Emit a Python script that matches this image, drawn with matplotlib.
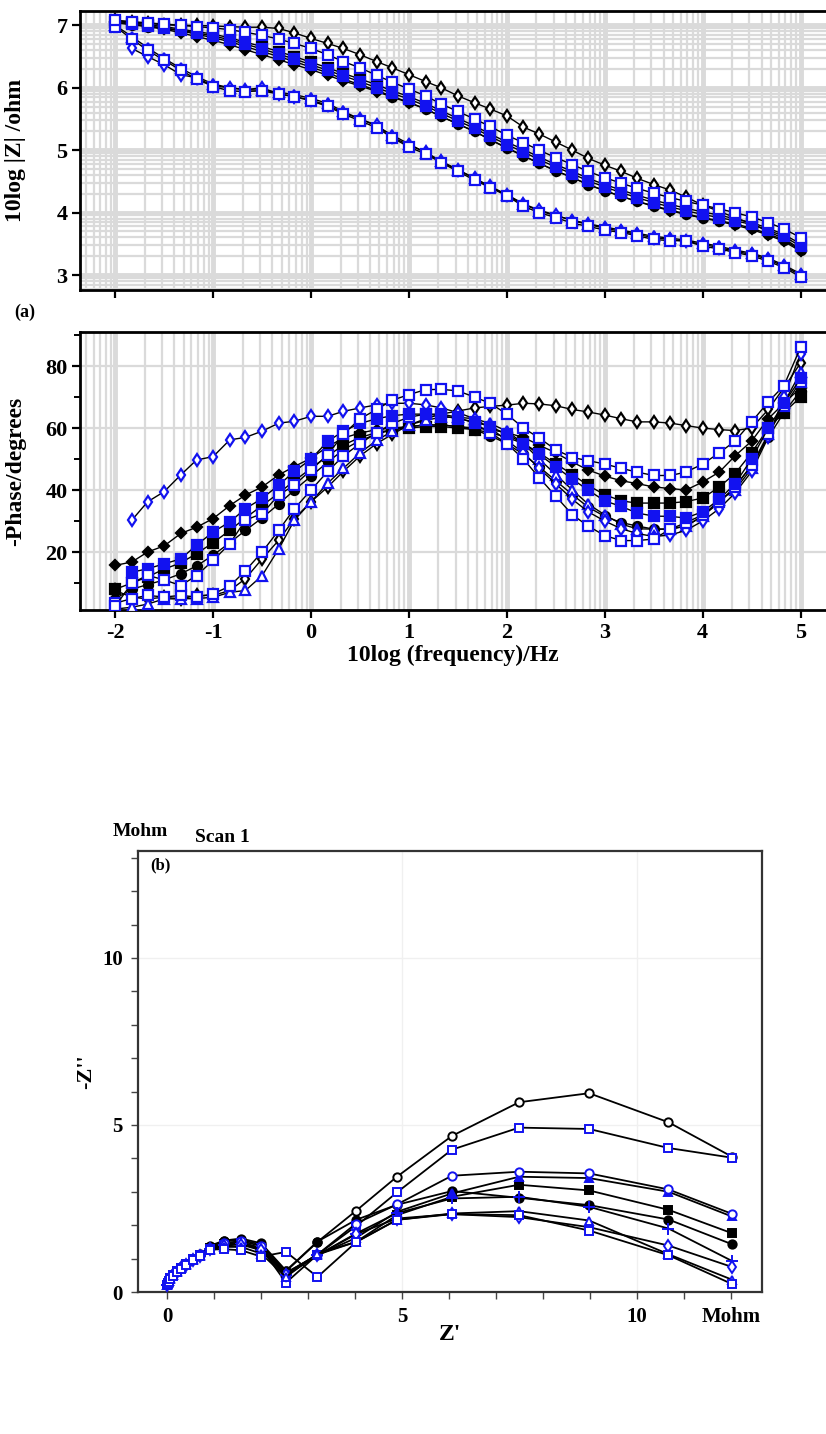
import matplotlib
matplotlib.use('Agg')
import matplotlib.pyplot as plt
import numpy as np
from matplotlib.ticker import FixedLocator, MultipleLocator

plt.rcParams['font.family'] = ['Liberation Serif', 'DejaVu Serif']
plt.rcParams['font.weight'] = 'bold'
plt.rcParams['axes.unicode_minus'] = False

nan = np.nan
BLUE = '#1212f0'

# ---------------- Bode data: log10(frequency / Hz) ----------------
logf = [-2.00, -1.83, -1.67, -1.50, -1.33, -1.17,
        -1.00, -0.83, -0.67, -0.50, -0.33, -0.17,
        0.00, 0.17, 0.33, 0.50, 0.67, 0.83,
        1.00, 1.17, 1.33, 1.50, 1.67, 1.83,
        2.00, 2.17, 2.33, 2.50, 2.67, 2.83,
        3.00, 3.17, 3.33, 3.50, 3.67, 3.83,
        4.00, 4.17, 4.33, 4.50, 4.67, 4.83,
        5.00]

# log10|Z| (ohm)
z_s1 = [7.08, 7.05, 7.03, 7.01, 7.00, 7.00, 6.99, 6.98, 6.97, 6.97, 6.95, 6.88,
        6.79, 6.71, 6.63, 6.53, 6.42, 6.32, 6.21, 6.10, 6.00, 5.87, 5.76, 5.66,
        5.55, 5.37, 5.26, 5.13, 5.00, 4.87, 4.76, 4.66, 4.55, 4.45, 4.36, 4.25,
        4.12, 4.02, 3.92, 3.82, 3.70, 3.58, 3.42]
z_s2 = [7.00, 6.82, 6.64, 6.47, 6.31, 6.18, 6.06, 6.00, 5.97, 5.96, 5.93, 5.89,
        5.83, 5.75, 5.62, 5.50, 5.39, 5.24, 5.10, 4.96, 4.82, 4.68, 4.55, 4.41,
        4.28, 4.13, 4.03, 3.95, 3.88, 3.82, 3.77, 3.72, 3.67, 3.62, 3.59, 3.56,
        3.51, 3.46, 3.40, 3.35, 3.27, 3.16, 3.02]
z_s3 = [nan, 6.63, 6.50, 6.37, 6.21, 6.16, 6.03, 6.00, 5.97, 6.00, 5.90, 5.86,
        5.80, 5.72, 5.60, 5.50, 5.40, 5.21, 5.08, 4.97, 4.82, 4.69, 4.55, 4.42,
        4.29, 4.14, 4.04, 3.96, 3.87, 3.81, 3.75, 3.70, 3.65, 3.60, 3.57, 3.54,
        3.49, 3.44, 3.38, 3.33, 3.25, 3.14, 3.00]
z_s4 = [7.05, 7.02, 6.98, 6.94, 6.88, 6.82, 6.76, 6.69, 6.61, 6.53, 6.45, 6.37,
        6.29, 6.20, 6.11, 6.03, 5.94, 5.85, 5.76, 5.66, 5.54, 5.42, 5.30, 5.17,
        5.03, 4.91, 4.79, 4.67, 4.56, 4.45, 4.35, 4.26, 4.18, 4.10, 4.03, 3.97,
        3.91, 3.86, 3.80, 3.73, 3.64, 3.54, 3.38]
z_s5 = [7.08, 7.06, 7.04, 7.02, 7.00, 6.98, 6.96, 6.93, 6.89, 6.84, 6.78, 6.71,
        6.63, 6.53, 6.42, 6.32, 6.20, 6.09, 5.98, 5.87, 5.74, 5.62, 5.50, 5.38,
        5.24, 5.12, 5.00, 4.88, 4.77, 4.66, 4.56, 4.47, 4.39, 4.31, 4.24, 4.18,
        4.12, 4.06, 4.00, 3.93, 3.84, 3.74, 3.60]
z_s6 = [nan, 7.02, 6.99, 6.96, 6.92, 6.88, 6.83, 6.77, 6.70, 6.62, 6.54, 6.46,
        6.37, 6.28, 6.19, 6.10, 6.00, 5.91, 5.82, 5.71, 5.59, 5.47, 5.35, 5.22,
        5.09, 4.97, 4.85, 4.73, 4.62, 4.51, 4.41, 4.32, 4.24, 4.16, 4.09, 4.03,
        3.97, 3.92, 3.87, 3.81, 3.72, 3.62, 3.46]
z_s7 = [7.06, 7.04, 7.01, 6.98, 6.94, 6.90, 6.86, 6.80, 6.73, 6.66, 6.58, 6.50,
        6.41, 6.32, 6.23, 6.14, 6.05, 5.95, 5.86, 5.75, 5.63, 5.51, 5.39, 5.26,
        5.13, 5.01, 4.89, 4.77, 4.66, 4.55, 4.45, 4.36, 4.28, 4.20, 4.13, 4.07,
        4.01, 3.96, 3.90, 3.84, 3.75, 3.65, 3.50]
z_s8 = [6.98, 6.78, 6.60, 6.44, 6.28, 6.14, 6.02, 5.95, 5.94, 5.95, 5.90, 5.86,
        5.79, 5.70, 5.58, 5.47, 5.36, 5.20, 5.05, 4.94, 4.80, 4.66, 4.52, 4.40,
        4.27, 4.10, 4.00, 3.92, 3.83, 3.78, 3.72, 3.68, 3.63, 3.57, 3.55, 3.55,
        3.46, 3.42, 3.36, 3.31, 3.22, 3.12, 2.97]
z_s9 = [7.04, 7.01, 6.98, 6.95, 6.91, 6.86, 6.80, 6.74, 6.66, 6.58, 6.50, 6.42,
        6.33, 6.24, 6.14, 6.05, 5.96, 5.86, 5.77, 5.66, 5.54, 5.42, 5.30, 5.17,
        5.04, 4.91, 4.79, 4.67, 4.56, 4.45, 4.35, 4.26, 4.18, 4.11, 4.04, 3.98,
        3.92, 3.87, 3.82, 3.75, 3.66, 3.56, 3.40]

# -phase (degrees)
p_s1 = [7.6, 5.4, 4.9, 5.4, 4.9, 6.0, 6.0, 7.6, 11.4, 17.8, 23.8, 30.8,
        36.2, 41.0, 46.0, 51.0, 55.0, 58.0, 61.0, 63.0, 64.5, 65.5, 66.5, 67.0,
        67.4, 68.0, 67.8, 67.2, 66.0, 65.2, 64.2, 63.0, 62.0, 62.0, 61.6, 60.8,
        60.0, 59.5, 59.2, 60.0, 66.0, 73.0, 81.0]
p_s2 = [1.6, 2.2, 3.2, 4.9, 4.9, 5.0, 5.4, 7.0, 7.6, 12.4, 21.0, 30.3,
        36.2, 42.2, 47.0, 52.0, 56.0, 59.0, 61.0, 62.5, 63.5, 63.5, 63.0, 61.5,
        59.0, 55.0, 50.0, 45.0, 40.0, 35.5, 32.0, 29.0, 27.5, 27.4, 27.4, 28.4,
        31.6, 36.8, 40.0, 47.0, 58.0, 68.0, 78.0]
p_s3 = [nan, 30.3, 36.2, 39.5, 44.9, 49.7, 50.8, 56.2, 57.0, 59.0, 61.6, 62.2,
        63.8, 63.8, 65.4, 66.5, 67.5, 68.0, 68.0, 67.5, 66.5, 65.0, 63.0, 60.0,
        56.0, 52.0, 47.0, 42.0, 37.0, 33.0, 30.0, 27.5, 26.0, 25.0, 25.5, 27.0,
        30.0, 34.0, 39.0, 46.0, 57.0, 70.0, 84.0]
p_s4 = [15.7, 16.8, 20.0, 22.0, 26.0, 28.0, 30.8, 35.0, 38.4, 41.0, 44.9, 47.6,
        50.3, 54.0, 56.8, 58.4, 59.5, 60.0, 60.5, 61.0, 61.0, 60.5, 60.0, 59.5,
        58.5, 57.0, 54.5, 52.0, 49.0, 46.5, 44.5, 43.0, 42.1, 41.0, 40.5, 40.0,
        42.6, 45.8, 51.0, 55.8, 63.0, 68.0, 73.0]
p_s5 = [2.5, 10.0, 12.5, 11.0, 9.2, 12.4, 17.3, 22.7, 30.3, 32.4, 38.4, 41.6,
        46.5, 51.4, 58.0, 63.0, 66.0, 69.0, 70.8, 72.4, 72.5, 72.0, 70.0, 68.0,
        64.5, 60.0, 56.8, 53.0, 50.5, 49.5, 48.4, 47.0, 45.8, 44.7, 44.7, 45.8,
        48.4, 52.0, 55.8, 62.0, 68.4, 73.7, 86.0]
p_s6 = [nan, 13.5, 14.6, 16.2, 17.8, 22.2, 26.5, 29.7, 34.0, 37.3, 41.6, 46.0,
        50.0, 55.7, 59.0, 61.5, 63.0, 64.0, 64.5, 64.5, 64.0, 63.0, 62.0, 60.5,
        58.0, 55.0, 51.5, 47.5, 43.5, 40.0, 36.5, 34.7, 32.6, 31.6, 31.5, 31.0,
        33.0, 37.0, 42.0, 50.0, 60.0, 68.0, 76.0]
p_s7 = [8.0, 10.0, 12.0, 14.5, 16.5, 19.5, 23.0, 27.0, 31.0, 35.0, 39.0, 43.0,
        47.0, 51.0, 54.5, 57.0, 58.5, 59.5, 60.0, 60.5, 60.5, 60.0, 59.5, 58.5,
        57.0, 55.0, 52.0, 48.5, 45.0, 41.5, 38.5, 36.5, 35.8, 35.8, 35.8, 36.3,
        37.4, 41.0, 45.3, 52.0, 60.0, 65.0, 70.0]
p_s8 = [3.5, 5.0, 6.0, 5.5, 6.0, 5.5, 6.5, 9.0, 14.0, 20.0, 27.0, 34.0,
        40.0, 46.0, 51.0, 55.0, 58.5, 61.5, 63.5, 64.5, 64.5, 63.5, 61.5, 58.5,
        55.0, 50.0, 44.0, 38.0, 32.0, 28.4, 25.3, 23.7, 23.7, 24.2, 27.4, 29.5,
        32.0, 36.0, 41.0, 48.0, 58.0, 67.0, 75.0]
p_s9 = [5.0, 8.0, 9.5, 11.0, 13.0, 15.5, 19.0, 23.0, 27.0, 31.0, 35.5, 40.0,
        44.5, 49.0, 53.0, 56.0, 58.0, 59.5, 60.5, 61.0, 61.0, 60.5, 59.5, 57.5,
        55.0, 51.5, 47.5, 43.0, 38.5, 34.5, 31.5, 29.5, 28.4, 27.4, 27.4, 28.4,
        31.6, 36.0, 41.0, 48.0, 57.0, 65.0, 72.0]

bode_z = [z_s1, z_s7, z_s9, z_s4, z_s2, z_s3, z_s8, z_s6, z_s5]
bode_p = [p_s1, p_s7, p_s9, p_s4, p_s2, p_s3, p_s8, p_s6, p_s5]
# (marker, face, edge)
bode_style = [('d', 'white', 'black'), ('s', 'black', 'black'), ('o', 'black', 'black'),
              ('D', 'black', 'black'), ('^', 'white', BLUE), ('d', 'white', BLUE),
              ('s', 'white', BLUE), ('s', BLUE, BLUE), ('s', 'white', BLUE)]

# ---------------- Nyquist data (Mohm) ----------------
z_real = [0.005, 0.01, 0.03, 0.06, 0.12, 0.2, 0.3, 0.4, 0.55, 0.71, 0.91, 1.21,
          1.57, 2.0, 2.53, 3.2, 4.02, 4.89, 6.06, 7.49, 8.98, 10.67, 12.02]
n1 = [0.25, 0.3, 0.36, 0.44, 0.54, 0.64, 0.75, 0.84, 1.0, 1.12, 1.36, 1.52, 1.56, 1.42, 0.62, 1.5, 2.43, 3.45, 4.67, 5.68, 5.95, 5.08, 4.05]
n2 = [0.22, 0.27, 0.33, 0.42, 0.52, 0.62, 0.73, 0.83, 0.98, 1.1, 1.3, 1.42, 1.48, 1.32, 0.28, 1.12, 1.97, 2.98, 4.26, 4.92, 4.88, 4.31, 4.02]
n3 = [0.23, 0.28, 0.35, 0.43, 0.53, 0.63, 0.74, 0.84, 0.99, 1.11, 1.33, 1.47, 1.52, 1.38, 0.55, 1.12, 2.05, 2.62, 3.48, 3.6, 3.55, 3.07, 2.34]
n4 = [0.22, 0.27, 0.34, 0.42, 0.52, 0.62, 0.73, 0.83, 0.98, 1.1, 1.3, 1.42, 1.47, 1.3, 0.58, 1.1, 1.62, 2.4, 2.95, 3.45, 3.41, 3.0, 2.26]
n5 = [0.22, 0.27, 0.34, 0.42, 0.52, 0.62, 0.73, 0.83, 0.98, 1.1, 1.31, 1.44, 1.48, 1.3, 0.55, 1.12, 1.5, 2.3, 2.85, 3.21, 3.04, 2.46, 1.76]
n6 = [0.24, 0.29, 0.36, 0.44, 0.54, 0.64, 0.75, 0.85, 1.0, 1.13, 1.38, 1.54, 1.6, 1.46, 0.64, 1.51, 2.16, 2.61, 3.02, 2.82, 2.6, 2.17, 1.43]
n7 = [0.22, 0.27, 0.33, 0.41, 0.51, 0.61, 0.72, 0.82, 0.97, 1.09, 1.29, 1.4, 1.45, 1.27, 0.5, 1.1, 1.75, 2.36, 2.8, 2.85, 2.55, 1.9, 0.93]
n8 = [0.21, 0.26, 0.32, 0.41, 0.51, 0.61, 0.72, 0.82, 0.97, 1.09, 1.28, 1.39, 1.42, 1.25, 0.5, 1.1, 1.73, 2.2, 2.33, 2.24, 1.94, 1.39, 0.75]
n9 = [0.21, 0.26, 0.32, 0.4, 0.5, 0.6, 0.71, 0.81, 0.96, 1.08, 1.27, 1.35, 1.35, 1.15, 0.45, 1.15, 1.5, 2.16, 2.35, 2.42, 2.14, 1.13, 0.37]
n10 = [0.2, 0.25, 0.31, 0.39, 0.49, 0.59, 0.7, 0.8, 0.95, 1.07, 1.27, 1.28, 1.25, 1.06, 1.2, 0.45, 1.49, 2.16, 2.33, 2.3, 1.84, 1.1, 0.24]
nyq = [n1, n6, n5, n4, n2, n3, n7, n8, n9, n10]
nyq_style = [('o', 'white', 'black'), ('o', 'black', 'black'), ('s', 'black', 'black'),
             ('^', BLUE, BLUE), ('s', 'white', BLUE), ('o', 'white', BLUE),
             ('+', BLUE, BLUE), ('d', 'white', BLUE), ('^', 'white', BLUE), ('s', 'white', BLUE)]

# ---------------- layout ----------------
W, H = 826, 1434
fig = plt.figure(figsize=(W / 100, H / 100), dpi=100)


def rect(l, t, r, b):
    return [l / W, 1 - b / H, (r - l) / W, (b - t) / H]


ax1 = fig.add_axes(rect(80, 11, 826, 290))
ax2 = fig.add_axes(rect(80, 332, 826, 610))
ax3 = fig.add_axes(rect(138, 851, 762, 1292))

XL = (-2.36, 5.26)
GRID = '#dadada'


def log_vgrid(ax, lo, hi):
    for d in range(int(np.floor(lo)) - 1, int(np.ceil(hi)) + 1):
        for m in range(1, 10):
            v = d + np.log10(m)
            if lo < v < hi:
                ax.axvline(v, color=GRID, lw=3.5 if m == 1 else 1.6, zorder=0)


def log_hgrid(ax, lo, hi):
    for d in range(int(np.floor(lo)) - 1, int(np.ceil(hi)) + 1):
        for m in range(1, 10):
            v = d + np.log10(m)
            if lo < v < hi:
                ax.axhline(v, color=GRID, lw=3.5 if m == 1 else 1.6, zorder=0)


for ax in (ax1, ax2):
    ax.set_xlim(*XL)
    log_vgrid(ax, *XL)
    ax.spines['right'].set_visible(False)
    for s in ('left', 'top', 'bottom'):
        ax.spines[s].set_linewidth(2.0)
    ax.set_xticks(range(-2, 6))
    ax.tick_params(axis='both', direction='out', length=6, width=1.6, labelsize=16, pad=3)

# |Z| panel
ax1.set_ylim(2.76, 7.23)
log_hgrid(ax1, 2.76, 7.23)
ax1.set_yticks([3, 4, 5, 6, 7])
ax1.tick_params(axis='x', labelbottom=False)
ax1.set_ylabel('10log |Z| /ohm', fontsize=17, fontweight='bold')
ax1.yaxis.set_label_coords(-0.072, 0.5)

for ys, (mk, fc, ec) in zip(bode_z, bode_style):
    ax1.plot(logf, ys, color='black', lw=1.0, marker=mk, ms=6.5 if mk != 'D' else 5,
             mfc=fc, mec=ec, mew=1.6, zorder=3)

# phase panel
ax2.set_ylim(1.3, 91)
ax2.set_yticks([20, 40, 60, 80])
ax2.yaxis.set_minor_locator(FixedLocator([10, 30, 50, 70, 90]))
ax2.tick_params(axis='y', which='minor', length=4, width=1.4)
for v in (20, 40, 60, 80):
    ax2.axhline(v, color=GRID, lw=1.6, zorder=0)
ax2.set_ylabel('-Phase/degrees', fontsize=17, fontweight='bold')
ax2.yaxis.set_label_coords(-0.072, 0.5)
ax2.set_xlabel('10log (frequency)/Hz', fontsize=17, fontweight='bold', labelpad=2)

for ys, (mk, fc, ec) in zip(bode_p, bode_style):
    ax2.plot(logf, ys, color='black', lw=1.0, marker=mk, ms=6.5 if mk != 'D' else 5,
             mfc=fc, mec=ec, mew=1.6, zorder=3)

fig.text(14 / W, 1 - 312 / H, '(a)', fontsize=13, fontweight='bold', va='center')

# Nyquist panel
ax3.set_xlim(-0.62, 12.66)
ax3.set_ylim(0, 13.2)
ax3.xaxis.set_major_locator(FixedLocator([0, 5, 10, 12]))
ax3.set_xticklabels(['0', '5', '10', 'Mohm'])
ax3.xaxis.set_minor_locator(MultipleLocator(1))
ax3.yaxis.set_major_locator(FixedLocator([0, 5, 10]))
ax3.yaxis.set_minor_locator(MultipleLocator(1))
ax3.tick_params(which='both', direction='out', length=5, width=1.0, color='#444444',
                labelsize=15, pad=6)
for s in ax3.spines.values():
    s.set_linewidth(1.6)
    s.set_color('#333333')
for v in (5, 10):
    ax3.axhline(v, color='#f0f0f0', lw=1.0, zorder=0)
    ax3.axvline(v, color='#f0f0f0', lw=1.0, zorder=0)
ax3.set_xlabel("Z'", fontsize=17, fontweight='bold', labelpad=-2)
ax3.set_ylabel("-Z''", fontsize=16, fontweight='bold', labelpad=4)

for ys, (mk, fc, ec) in zip(nyq, nyq_style):
    ax3.plot(z_real, ys, color='black', lw=1.3, marker=mk, ms=6 if mk != '+' else 8,
             mfc=fc, mec=ec, mew=1.4, zorder=3)

ax3.text(0.02, 0.985, '(b)', transform=ax3.transAxes, fontsize=12, fontweight='bold',
         va='top', ha='left')
fig.text(113 / W, 1 - 832 / H, 'Mohm', fontsize=14, fontweight='bold', va='center')
fig.text(195 / W, 1 - 838 / H, 'Scan 1', fontsize=14, fontweight='bold', va='center')

fig.savefig('out.png', dpi=100)
